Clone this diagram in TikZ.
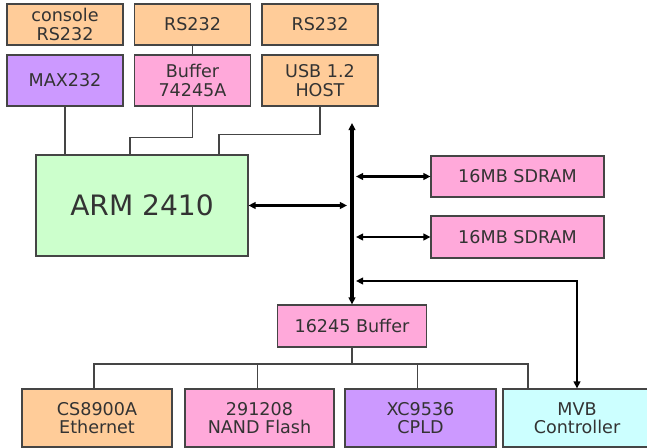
\documentclass[tikz,border=0pt]{standalone}
\usepackage{fontspec}
\setmainfont{DejaVu Sans}
\usetikzlibrary{positioning, arrows.meta, calc}
\definecolor{bxorange}{HTML}{FFCC99}
\definecolor{bxpurple}{HTML}{CC99FF}
\definecolor{bxpink}{HTML}{FFA9DA}
\definecolor{bxgreen}{HTML}{CCFFCC}
\definecolor{bxcyan}{HTML}{CCFFFF}
\definecolor{bxline}{HTML}{454545}
\definecolor{bxtext}{HTML}{333333}
\begin{document}
\begin{tikzpicture}[x=0.02cm, y=-0.02cm,
    b/.style={draw=bxline, line width=0.6pt, text=bxtext, align=center, inner sep=0pt,
      font=\fontsize{10}{10.5}\selectfont, minimum width=2.32cm, minimum height=0.82cm},
    wire/.style={draw=bxline, line width=0.6pt},
    arr/.style={line width=1.2pt, {Triangle[length=4pt,width=3.8pt]}-{Triangle[length=4pt,width=3.8pt]}}]
  \useasboundingbox (0,0) rectangle (647,448);
  \node[b, fill=bxorange] (con) at (65,24.5) {console\\RS232};
  \node[b, fill=bxorange] (rsa) at (192.5,24.5) {RS232};
  \node[b, fill=bxorange] (rsb) at (320,24.5) {RS232};
  \node[b, fill=bxpurple, minimum height=1.02cm] (max) at (65,80.5) {MAX232};
  \node[b, fill=bxpink, minimum height=1.02cm] (buf) at (192.5,80.5) {Buffer\\74245A};
  \node[b, fill=bxorange, minimum height=1.02cm] (usb) at (320,80.5) {USB 1.2\\HOST};
  \node[b, fill=bxgreen, minimum width=4.24cm, minimum height=2.02cm,
    font=\fontsize{16}{18}\selectfont] (arm) at (142,205.5) {ARM 2410};
  \node[b, fill=bxpink, minimum width=3.46cm] (sda) at (517.5,176.5) {16MB SDRAM};
  \node[b, fill=bxpink, minimum width=3.46cm, minimum height=0.84cm] (sdb) at (517.5,237) {16MB SDRAM};
  \node[b, fill=bxpink, minimum width=2.98cm, minimum height=0.84cm] (b16) at (352,326) {16245 Buffer};
  \node[b, fill=bxorange, minimum width=3cm, minimum height=1.16cm] (eth) at (97,418) {CS8900A\\Ethernet};
  \node[b, fill=bxpink, minimum width=2.98cm, minimum height=1.16cm] (nand) at (259.5,418) {291208\\NAND Flash};
  \node[b, fill=bxpurple, minimum width=3.02cm, minimum height=1.16cm] (cpld) at (420.5,418) {XC9536\\CPLD};
  \node[b, fill=bxcyan, minimum width=2.96cm, minimum height=1.16cm] (mvb) at (577,418) {MVB\\Controller};

  \coordinate (bustop) at (352,123);
  \coordinate (split) at (352,364);

  \draw[wire] (rsa) -- (buf);
  \draw[wire] (max.south) -- (max.south |- arm.north);
  \draw[wire] (buf.south) -- ++(0,31) -| ($(arm.north)+(-12,0)$);
  \draw[wire] (usb.south) -- ++(0,28) -| ($(arm.north)+(77,0)$);

  \draw[arr, line width=2pt] (bustop) -- (b16.north);
  \draw[arr, shorten >=0.1cm] (arm.east) -- (arm.east -| bustop);
  \draw[arr, shorten <=0.08cm] (sda.west -| bustop) -- (sda.west);
  \draw[arr, shorten <=0.08cm] (sdb.west -| bustop) -- (sdb.west);
  \draw[arr, shorten <=0.08cm] ($(bustop)+(0,158)$) -| (mvb.north);

  \draw[wire] (b16.south) -- (split);
  \foreach \n/\dx in {eth/-3, nand/-2, cpld/-3, mvb/-49}
    \draw[wire] (split) -| ($(\n.north)+(\dx,0)$);
\end{tikzpicture}
\end{document}
